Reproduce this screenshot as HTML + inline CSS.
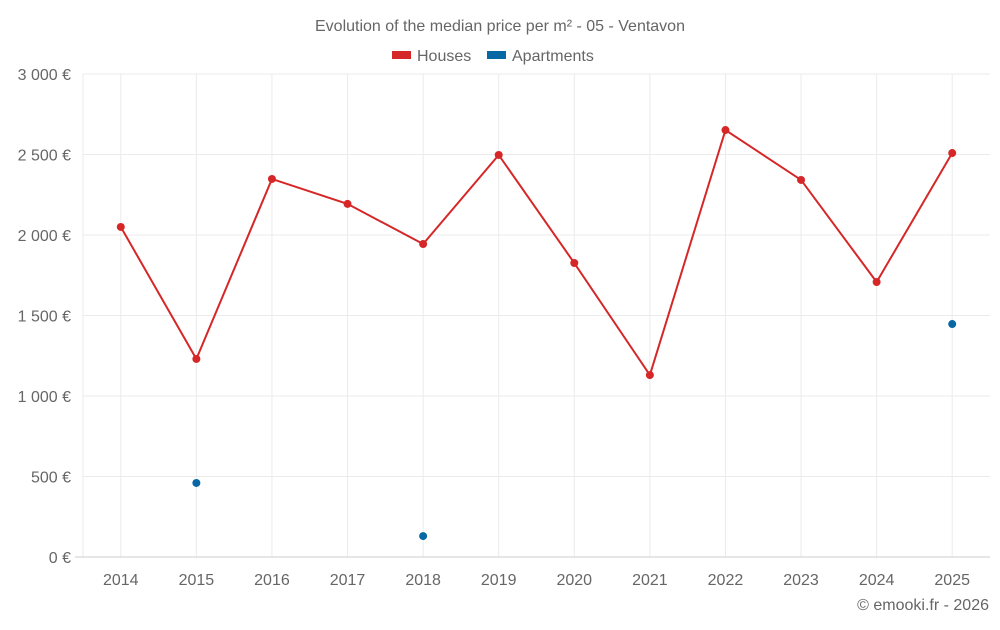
<!DOCTYPE html>
<html><head><meta charset="utf-8">
<style>
body{margin:0;background:#fff;font-family:"Liberation Sans",sans-serif;}
svg text{font-family:"Liberation Sans",sans-serif;fill:#666;}
</style></head>
<body>
<svg id="chart" width="1000" height="625" viewBox="0 0 1000 625" xmlns="http://www.w3.org/2000/svg">
<text x="500" y="31" text-anchor="middle" font-size="16">Evolution of the median price per m² - 05 - Ventavon</text>
<g>
<g><rect x="392" y="51" width="19" height="8" fill="#d62728"/><text x="417" y="61" font-size="16">Houses</text></g>
<g><rect x="487" y="51" width="19" height="8" fill="#0868a6"/><text x="512" y="61" font-size="16">Apartments</text></g>
</g>
<g id="grid"></g>
<g id="yaxis"></g>
<g id="xaxis"></g>
<g id="series"></g>
<text x="989" y="610" text-anchor="end" font-size="16">© emooki.fr - 2026</text>
</svg>
<script>
const years=["2014","2015","2016","2017","2018","2019","2020","2021","2022","2023","2024","2025"];
const houses=[2050,1230,2348,2193,1944,2497,1826,1130,2652,2342,1708,2509];
const apartments=[null,460,null,null,130,null,null,null,null,null,null,1447];
const yTicks=[0,500,1000,1500,2000,2500,3000];
const yTickLabels=["0 €","500 €","1 000 €","1 500 €","2 000 €","2 500 €","3 000 €"];
const NS="http://www.w3.org/2000/svg";
const L=83,R=990,T=74,B=557,maxV=3000;
const bw=(R-L)/years.length;
const x=i=>L+bw*(i+0.5);
const y=v=>B-(v/maxV)*(B-T);
function mk(tag,attrs,parent){const e=document.createElementNS(NS,tag);for(const k in attrs)e.setAttribute(k,attrs[k]);parent.appendChild(e);return e;}
const grid=document.getElementById('grid'),ya=document.getElementById('yaxis'),xa=document.getElementById('xaxis'),se=document.getElementById('series');
const lg=mk('line',{x1:L,x2:L,y1:T,y2:B,stroke:'#ebebeb'},grid);


years.forEach((yr,i)=>{
 const g=mk('line',{x1:x(i),x2:x(i),y1:T,y2:B,stroke:'#ebebeb'},grid);
 
 
 const t=mk('text',{x:x(i),y:585,'text-anchor':'middle','font-size':16},xa);
 t.textContent=yr;
 
 
});
yTicks.forEach((v,i)=>{
 const l=mk('line',{x1:i==0?L-8:L,x2:R,y1:y(v),y2:y(v),stroke:i==0?'#ccc':'#ebebeb','stroke-width':1},grid);
 
 
 const t=mk('text',{x:71,y:y(v)+6,'text-anchor':'end','font-size':16},ya);
 t.textContent=yTickLabels[i];
 
 
});
const pts=houses.map((v,i)=>x(i)+','+y(v)).join(' ');
const pl=mk('polyline',{points:pts,fill:'none',stroke:'#d62728','stroke-width':2},se);


houses.forEach((v,i)=>{
 const c=mk('circle',{cx:x(i),cy:y(v),r:4,fill:'#d62728'},se);
 
 
});
apartments.forEach((v,i)=>{
 if(v==null)return;
 const c=mk('circle',{cx:x(i),cy:y(v),r:4,fill:'#0868a6'},se);
 
 
});
</script>
</body></html>
